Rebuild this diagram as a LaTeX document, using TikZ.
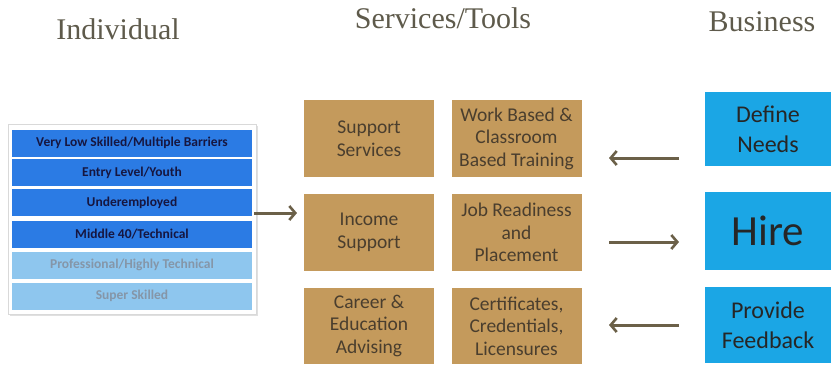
\documentclass[tikz,border=0pt]{standalone}
\usepackage{fontspec}
\setmainfont{Carlito}
\newfontfamily\headfont{Liberation Serif}
\usetikzlibrary{arrows.meta}
\definecolor{tan}{HTML}{C49A5C}
\definecolor{bizblue}{HTML}{1BA6E5}
\definecolor{bardark}{HTML}{2B7BE4}
\definecolor{barlight}{HTML}{8EC6EE}
\definecolor{headcol}{HTML}{5E5A4B}
\definecolor{arrowcol}{HTML}{6B6048}
\definecolor{boxtext}{HTML}{4A3E2E}
\definecolor{bartext}{HTML}{161640}
\definecolor{bartextlight}{HTML}{8596A8}
\tikzset{
  header/.style={text=headcol, font=\headfont\fontsize{30}{34}\selectfont, inner sep=0pt},
  svcbox/.style={fill=tan, text=boxtext, minimum width=130pt, minimum height=77pt, inner sep=0pt, align=center, font=\fontsize{19.5}{22.5}\selectfont},
  bizbox/.style={fill=bizblue, text=black!85, minimum width=126pt, inner sep=0pt, align=center, font=\fontsize{24}{30}\selectfont},
  darkbar/.style={fill=bardark, text=bartext, minimum width=240pt, minimum height=27pt, inner sep=0pt, font=\bfseries\fontsize{13.5}{16}\selectfont},
  lightbar/.style={fill=barlight, text=bartextlight, minimum width=240pt, minimum height=27pt, inner sep=0pt, font=\bfseries\fontsize{13.5}{16}\selectfont},
  flow/.style={draw=arrowcol, line width=3pt, -{Straight Barb[length=6pt,width=14pt,line width=2.6pt]}},
}
\begin{document}
\begin{tikzpicture}[x=1pt,y=-1pt]
\useasboundingbox (0,0) rectangle (831,365);
% headers
\node[header] (hind) at (118,29) {Individual};
\node[header] (hsvc) at (443,18) {Services/Tools};
\node[header] (hbiz) at (762,22) {Business};
% left panel
\fill[black!12] (10,126) rectangle (258,316);
\node[fill=white, draw=black!15, minimum width=248pt, minimum height=190pt, inner sep=0pt] (panel) at (132,219) {};
\node[darkbar] (b1) at (132,143) {Very Low Skilled/Multiple Barriers};
\node[darkbar] (b2) at (132,172.5) {Entry Level/Youth};
\node[darkbar] (b3) at (132,202.5) {Underemployed};
\node[darkbar] (b4) at (132,234.5) {Middle 40/Technical};
\node[lightbar] (b5) at (132,265) {Professional/Highly Technical};
\node[lightbar] (b6) at (132,296) {Super Skilled};
% services
\node[svcbox] (s11) at (369,138.5) {Support\\Services};
\node[svcbox] (s12) at (516.5,138.5) {Work Based \&\\Classroom\\Based Training};
\node[svcbox] (s21) at (369,232.5) {Income\\Support};
\node[svcbox] (s22) at (516.5,232.5) {Job Readiness\\and\\Placement};
\node[svcbox, minimum height=76pt] (s31) at (369,326) {Career \&\\Education\\Advising};
\node[svcbox, minimum height=76pt] (s32) at (516.5,326) {Certificates,\\Credentials,\\Licensures};
% business
\node[bizbox, minimum height=74pt] (z1) at (768,129) {Define\\Needs};
\node[bizbox, minimum height=78pt, font=\fontsize{43}{48}\selectfont] (z2) at (768,231) {Hire};
\node[bizbox, minimum height=76pt] (z3) at (768,325) {Provide\\Feedback};
% arrow coordinates
\coordinate (la1) at (254,213);
\coordinate (la2) at (297,213);
\coordinate (r1a) at (679,158);
\coordinate (r1b) at (609,158);
\coordinate (r2a) at (609,242);
\coordinate (r2b) at (679,242);
\coordinate (r3a) at (679,325);
\coordinate (r3b) at (609,325);
\draw[flow] (la1) -- (la2);
\draw[flow] (r1a) -- (r1b);
\draw[flow] (r2a) -- (r2b);
\draw[flow] (r3a) -- (r3b);
\end{tikzpicture}
\end{document}
